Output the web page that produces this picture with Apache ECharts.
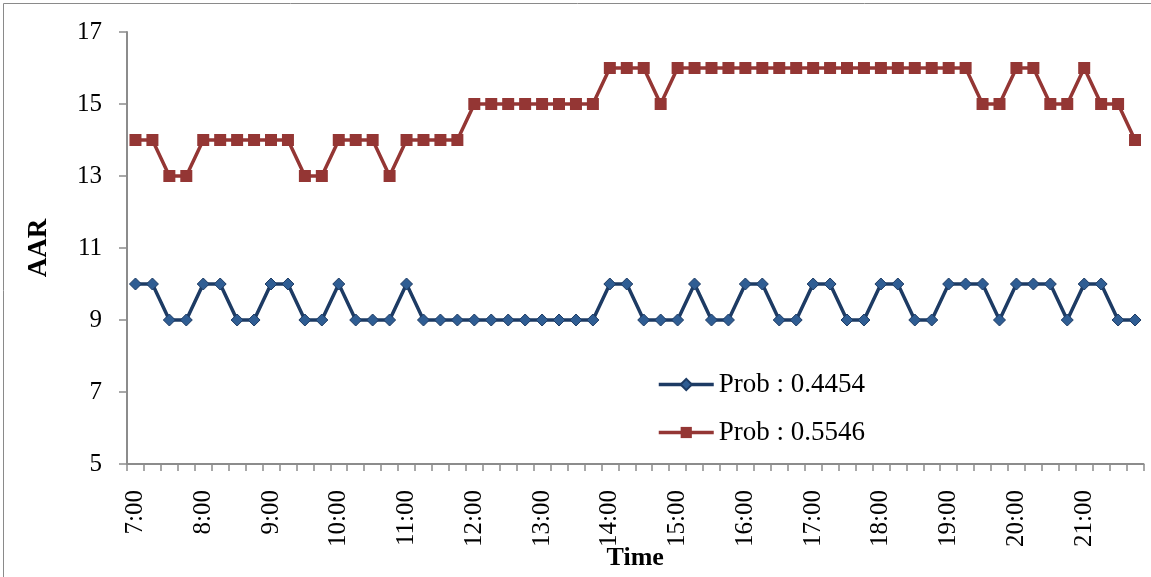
<!DOCTYPE html>
<html>
<head>
<meta charset="utf-8">
<script src="https://cdn.jsdelivr.net/npm/echarts@6/dist/echarts.min.js"></script>
<style>
html,body{margin:0;padding:0;background:#fff;}
#chart{width:1151px;height:577px;}
</style>
</head>
<body>
<div id="chart"></div>
<script>
const categories = [
  "7:00","7:15","7:30","7:45","8:00","8:15","8:30","8:45","9:00","9:15","9:30","9:45",
  "10:00","10:15","10:30","10:45","11:00","11:15","11:30","11:45","12:00","12:15","12:30","12:45",
  "13:00","13:15","13:30","13:45","14:00","14:15","14:30","14:45","15:00","15:15","15:30","15:45",
  "16:00","16:15","16:30","16:45","17:00","17:15","17:30","17:45","18:00","18:15","18:30","18:45",
  "19:00","19:15","19:30","19:45","20:00","20:15","20:30","20:45","21:00","21:15","21:30","21:45"
];
const seriesNames = ["Prob : 0.4454", "Prob : 0.5546"];
const prob4454 = [
  10,10,9,9,10,10,9,9,10,10,9,9,
  10,9,9,9,10,9,9,9,9,9,9,9,
  9,9,9,9,10,10,9,9,9,10,9,9,
  10,10,9,9,10,10,9,9,10,10,9,9,
  10,10,10,9,10,10,10,9,10,10,9,9
];
const prob5546 = [
  14,14,13,13,14,14,14,14,14,14,13,13,
  14,14,14,13,14,14,14,14,15,15,15,15,
  15,15,15,15,16,16,16,15,16,16,16,16,
  16,16,16,16,16,16,16,16,16,16,16,16,
  16,16,15,15,16,16,15,15,16,15,15,14
];
const yTicks = { min: 5, max: 17, interval: 2 };

const FONT = "'Liberation Serif', 'Times New Roman', serif";
const chart = echarts.init(document.getElementById('chart'), null, {renderer: 'canvas'});
chart.setOption({
  animation: false,
  backgroundColor: '#ffffff',
  graphic: [{
    type: 'rect', left: 1, top: 1, z: -1,
    shape: {width: 1148, height: 574},
    style: {fill: 'none', stroke: '#8a8a8a', lineWidth: 1}
  }],
  grid: {left: 127, right: 7.5, top: 32, bottom: 113, containLabel: false, outerBoundsMode: 'none'},
  legend: {
    orient: 'vertical',
    left: 652, top: 366,
    itemWidth: 55, itemHeight: 14, itemGap: 21,
    lineStyle: {width: 3.5},
    textStyle: {fontFamily: FONT, fontSize: 27, color: '#000'},
    data: seriesNames
  },
  xAxis: {
    type: 'category',
    data: categories,
    boundaryGap: true,
    name: 'Time',
    nameLocation: 'middle',
    nameGap: 81,
    nameMoveOverlap: false,
    nameTextStyle: {fontFamily: FONT, fontSize: 26, fontWeight: 'bold', color: '#000'},
    axisLine: {lineStyle: {color: '#8c8c8c', width: 2}},
    axisTick: {show: true, interval: 0, length: 7, inside: false, lineStyle: {color: '#8c8c8c', width: 1.5}},
    axisLabel: {interval: 3, rotate: 90, margin: 26, fontFamily: FONT, fontSize: 25, color: '#000'},
    splitLine: {show: false}
  },
  yAxis: {
    type: 'value',
    min: yTicks.min, max: yTicks.max, interval: yTicks.interval,
    name: 'AAR',
    nameLocation: 'middle',
    nameGap: 74,
    nameMoveOverlap: false,
    nameTextStyle: {fontFamily: FONT, fontSize: 27, fontWeight: 'bold', color: '#000'},
    axisLine: {show: true, lineStyle: {color: '#8c8c8c', width: 2}},
    axisTick: {show: true, length: 8, lineStyle: {color: '#8c8c8c', width: 1.5}},
    axisLabel: {margin: 25, fontFamily: FONT, fontSize: 25, color: '#000'},
    splitLine: {show: false}
  },
  series: [
    {
      name: seriesNames[0], type: 'line', data: prob4454,
      symbol: 'diamond', symbolSize: 12, showAllSymbol: true,
      lineStyle: {color: '#1d3b64', width: 3.5},
      itemStyle: {color: '#2f5d93', borderColor: '#1d3b64', borderWidth: 1},
      z: 3
    },
    {
      name: seriesNames[1], type: 'line', data: prob5546,
      symbol: 'rect', symbolSize: 12, showAllSymbol: true,
      lineStyle: {color: '#943634', width: 3.5},
      itemStyle: {color: '#943634', borderColor: '#943634', borderWidth: 0},
      z: 4
    }
  ]
});
</script>
</body>
</html>
